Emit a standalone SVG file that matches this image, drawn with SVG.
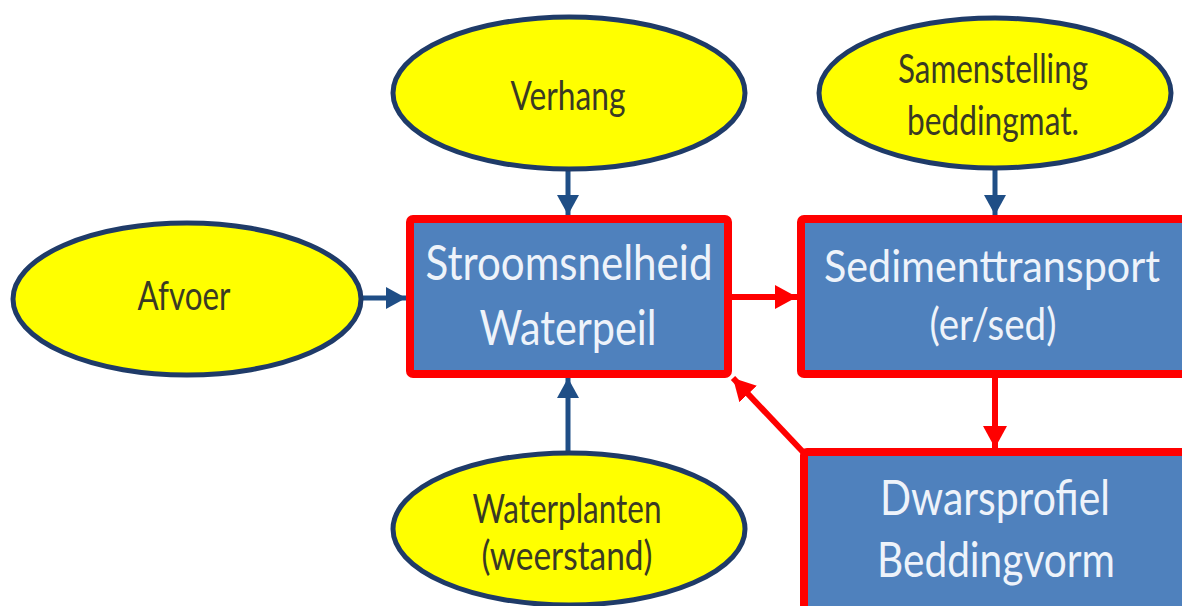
<svg xmlns="http://www.w3.org/2000/svg" width="1182" height="606" viewBox="0 0 1182 606">
<style>
.ell{fill:#FFFF00;stroke:#1F3B68;stroke-width:5}
.box{fill:#4F81BD;stroke:#FF0000;stroke-width:8}
.et{font-family:Lato,"Open Sans","Liberation Sans",sans-serif;font-size:40px;fill:#3A3A24;text-anchor:middle}
.bt{font-family:Lato,"Open Sans","Liberation Sans",sans-serif;font-size:48px;fill:#EEF3FA;text-anchor:middle}
.bs{font-size:44px}
.bl{stroke:#1F4E86;stroke-width:5;fill:none}
.rd{stroke:#FF0000;stroke-width:6;fill:none}
</style>
<defs>
<marker id="ab" viewBox="0 0 20 22" refX="20" refY="11" markerWidth="20" markerHeight="22" markerUnits="userSpaceOnUse" orient="auto">
<path d="M0,0 L20,11 L0,22 Z" fill="#1F4E86"/>
</marker>
<marker id="ar" viewBox="0 0 22 24" refX="22" refY="12" markerWidth="22" markerHeight="24" markerUnits="userSpaceOnUse" orient="auto">
<path d="M0,0 L22,12 L0,24 Z" fill="#FF0000"/>
</marker>
</defs>
<rect width="1182" height="606" fill="#FFFFFF"/>
<g id="connectors">
<line class="bl" x1="568" y1="170" x2="568" y2="215" marker-end="url(#ab)"/>
<line class="bl" x1="362" y1="298" x2="406" y2="298" marker-end="url(#ab)"/>
<line class="bl" x1="568" y1="452" x2="568" y2="378" marker-end="url(#ab)"/>
<line class="bl" x1="995" y1="168" x2="995" y2="215" marker-end="url(#ab)"/>
<line class="rd" x1="732" y1="297" x2="797" y2="297" marker-end="url(#ar)"/>
<line class="rd" x1="995" y1="378" x2="995" y2="448" marker-end="url(#ar)"/>
<line class="rd" x1="803" y1="452" x2="733" y2="378" marker-end="url(#ar)"/>
</g>
<g id="verhang">
<ellipse class="ell" cx="569" cy="93" rx="176" ry="76"/>
<text class="et" x="568" y="110" textLength="115" lengthAdjust="spacingAndGlyphs">Verhang</text>
</g>
<g id="samenstelling">
<ellipse class="ell" cx="995" cy="93" rx="176" ry="75"/>
<text class="et" x="993" y="83" textLength="190" lengthAdjust="spacingAndGlyphs">Samenstelling</text>
<text class="et" x="993" y="135" textLength="172" lengthAdjust="spacingAndGlyphs">beddingmat.</text>
</g>
<g id="afvoer">
<ellipse class="ell" cx="187" cy="299" rx="174" ry="76"/>
<text class="et" x="184" y="310" textLength="93" lengthAdjust="spacingAndGlyphs">Afvoer</text>
</g>
<g id="waterplanten">
<ellipse class="ell" cx="569" cy="529" rx="176" ry="76"/>
<text class="et" x="567" y="523" textLength="189" lengthAdjust="spacingAndGlyphs">Waterplanten</text>
<text class="et" x="567" y="570" textLength="171" lengthAdjust="spacingAndGlyphs">(weerstand)</text>
</g>
<g id="stroomsnelheid">
<rect class="box" x="410" y="219" width="318" height="155" rx="3"/>
<text class="bt" x="569" y="280" textLength="287" lengthAdjust="spacingAndGlyphs">Stroomsnelheid</text>
<text class="bt" x="568" y="345" textLength="177" lengthAdjust="spacingAndGlyphs">Waterpeil</text>
</g>
<g id="sedimenttransport">
<rect class="box" x="801" y="219" width="386" height="155" rx="3"/>
<text class="bt bs" x="992" y="282" textLength="336" lengthAdjust="spacingAndGlyphs">Sedimenttransport</text>
<text class="bt bs" x="993" y="340" textLength="127" lengthAdjust="spacingAndGlyphs">(er/sed)</text>
</g>
<g id="dwarsprofiel">
<rect class="box" x="804" y="452" width="383" height="160" rx="3"/>
<text class="bt" x="995" y="515" textLength="230" lengthAdjust="spacingAndGlyphs">Dwarsprofiel</text>
<text class="bt" x="996" y="577" textLength="238" lengthAdjust="spacingAndGlyphs">Beddingvorm</text>
</g>
</svg>
